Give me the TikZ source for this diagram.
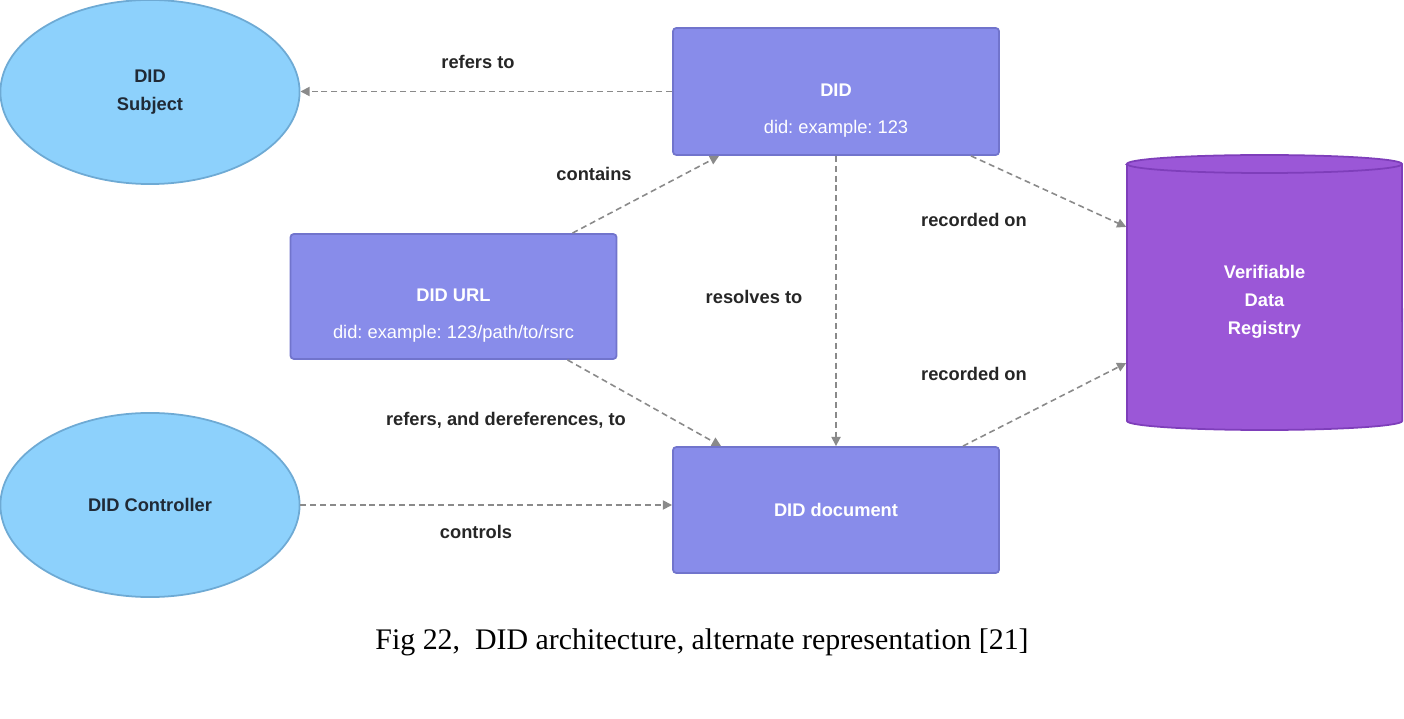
\documentclass[tikz,border=0pt]{standalone}
\usepackage{fontspec}
\setmainfont{Liberation Sans}
\newfontfamily\capfont{Liberation Serif}
\usetikzlibrary{shapes.geometric,arrows.meta}
\frenchspacing
\definecolor{subjblue}{RGB}{141, 209, 252}
\definecolor{subjline}{RGB}{110, 170, 212}
\definecolor{didfill}{RGB}{136, 140, 234}
\definecolor{didline}{RGB}{113, 116, 204}
\definecolor{regfill}{RGB}{155, 87, 215}
\definecolor{regline}{RGB}{126, 62, 186}
\definecolor{inktext}{RGB}{32, 42, 54}
\definecolor{conngray}{RGB}{138, 138, 138}

\tikzset{
  didbox/.style={draw=didline, fill=didfill, line width=0.5pt, rounded corners=1pt,
    minimum width=3.26cm, minimum height=1.27cm},
  didellipse/.style={ellipse, draw=subjline, fill=subjblue, line width=0.5pt,
    minimum width=2.99cm, minimum height=1.84cm, inner sep=0pt,
    text=inktext, font=\fontsize{5.2}{8}\selectfont\bfseries, align=center},
  boxtext/.style={text=white, font=\fontsize{5.2}{8}\selectfont, align=center},
  lbl/.style={text=black!85, font=\fontsize{5.2}{8}\selectfont\bfseries},
  conn/.style={draw=conngray, line width=0.45pt, dash pattern=on 1.7pt off 1.1pt,
    -{Triangle[length=2.6pt, width=2.6pt]}}
}

\begin{document}
\begin{tikzpicture}[x=0.01cm, y=0.01cm]
  \useasboundingbox (0,0) rectangle (1404,718);

  % Ellipses
  \node[didellipse] (subj) at (150,626) {DID\\Subject};
  \node[didellipse] (ctrl) at (150,213) {DID Controller};

  % Boxes
  \node[didbox] (did) at (836,626.5) {};
  \node[boxtext] (didtxt) at ([yshift=-0.19cm]did.center) {\textbf{DID}\\[2.5pt]did: example: 123};
  \node[didbox, minimum height=1.25cm] (url) at (453.5,421.5) {};
  \node[boxtext] (urltxt) at ([yshift=-0.19cm]url.center) {\textbf{DID URL}\\[2.5pt]did: example: 123/path/to/rsrc};
  \node[didbox, minimum height=1.26cm] (doc) at (836,208) {};
  \node[boxtext, font=\fontsize{5.2}{8}\selectfont\bfseries] (doctxt) at (doc.center) {DID document};

  % Registry cylinder
  \fill[regfill, draw=regline, line width=0.5pt] (1127,554) -- (1127,297)
    arc[start angle=180, end angle=360, x radius=1.375cm, y radius=0.09cm]
    -- (1402,554)
    arc[start angle=0, end angle=180, x radius=1.375cm, y radius=0.09cm] -- cycle;
  \draw[regline, line width=0.5pt] (1127,554)
    arc[start angle=180, end angle=360, x radius=1.375cm, y radius=0.09cm];
  \node[minimum width=2.75cm, minimum height=2.57cm, text=white, align=center,
    font=\fontsize{5.2}{8}\selectfont\bfseries] (reg) at (1264.5,416) {Verifiable\\Data\\Registry};

  % Connectors
  \draw[conn] (did.west) -- (did.west -| subj.east);
  \draw[conn] ([xshift=-0.45cm]url.north east) -- ([xshift=0.47cm]did.south west);
  \draw[conn] (did.south) -- (doc.north);
  \draw[conn] ([xshift=-0.29cm]did.south east) -- ([yshift=0.75cm]reg.west);
  \draw[conn] ([xshift=-0.37cm]doc.north east) -- ([yshift=-0.61cm]reg.west);
  \draw[conn] ([xshift=-0.5cm]url.south east) -- ([xshift=0.49cm]doc.north west);
  \draw[conn] (ctrl.east) -- (ctrl.east -| doc.west);

  % Labels
  \node[lbl] (lrefers) at (478,656) {refers to};
  \node[lbl] (lcontains) at (594,544) {contains};
  \node[lbl] (lresolves) at (754,421) {resolves to};
  \node[lbl] (lrecone) at (974,498) {recorded on};
  \node[lbl] (lrectwo) at (974,344) {recorded on};
  \node[lbl] (lderef) at (506,298) {refers, and dereferences, to};
  \node[lbl] (lcontrols) at (476,186) {controls};

  % Caption
  \node[font=\capfont\fontsize{8.5}{10}\selectfont] (caption) at (702,76)
    {Fig 22,\ \ DID architecture, alternate representation [21]};
\end{tikzpicture}
\end{document}
